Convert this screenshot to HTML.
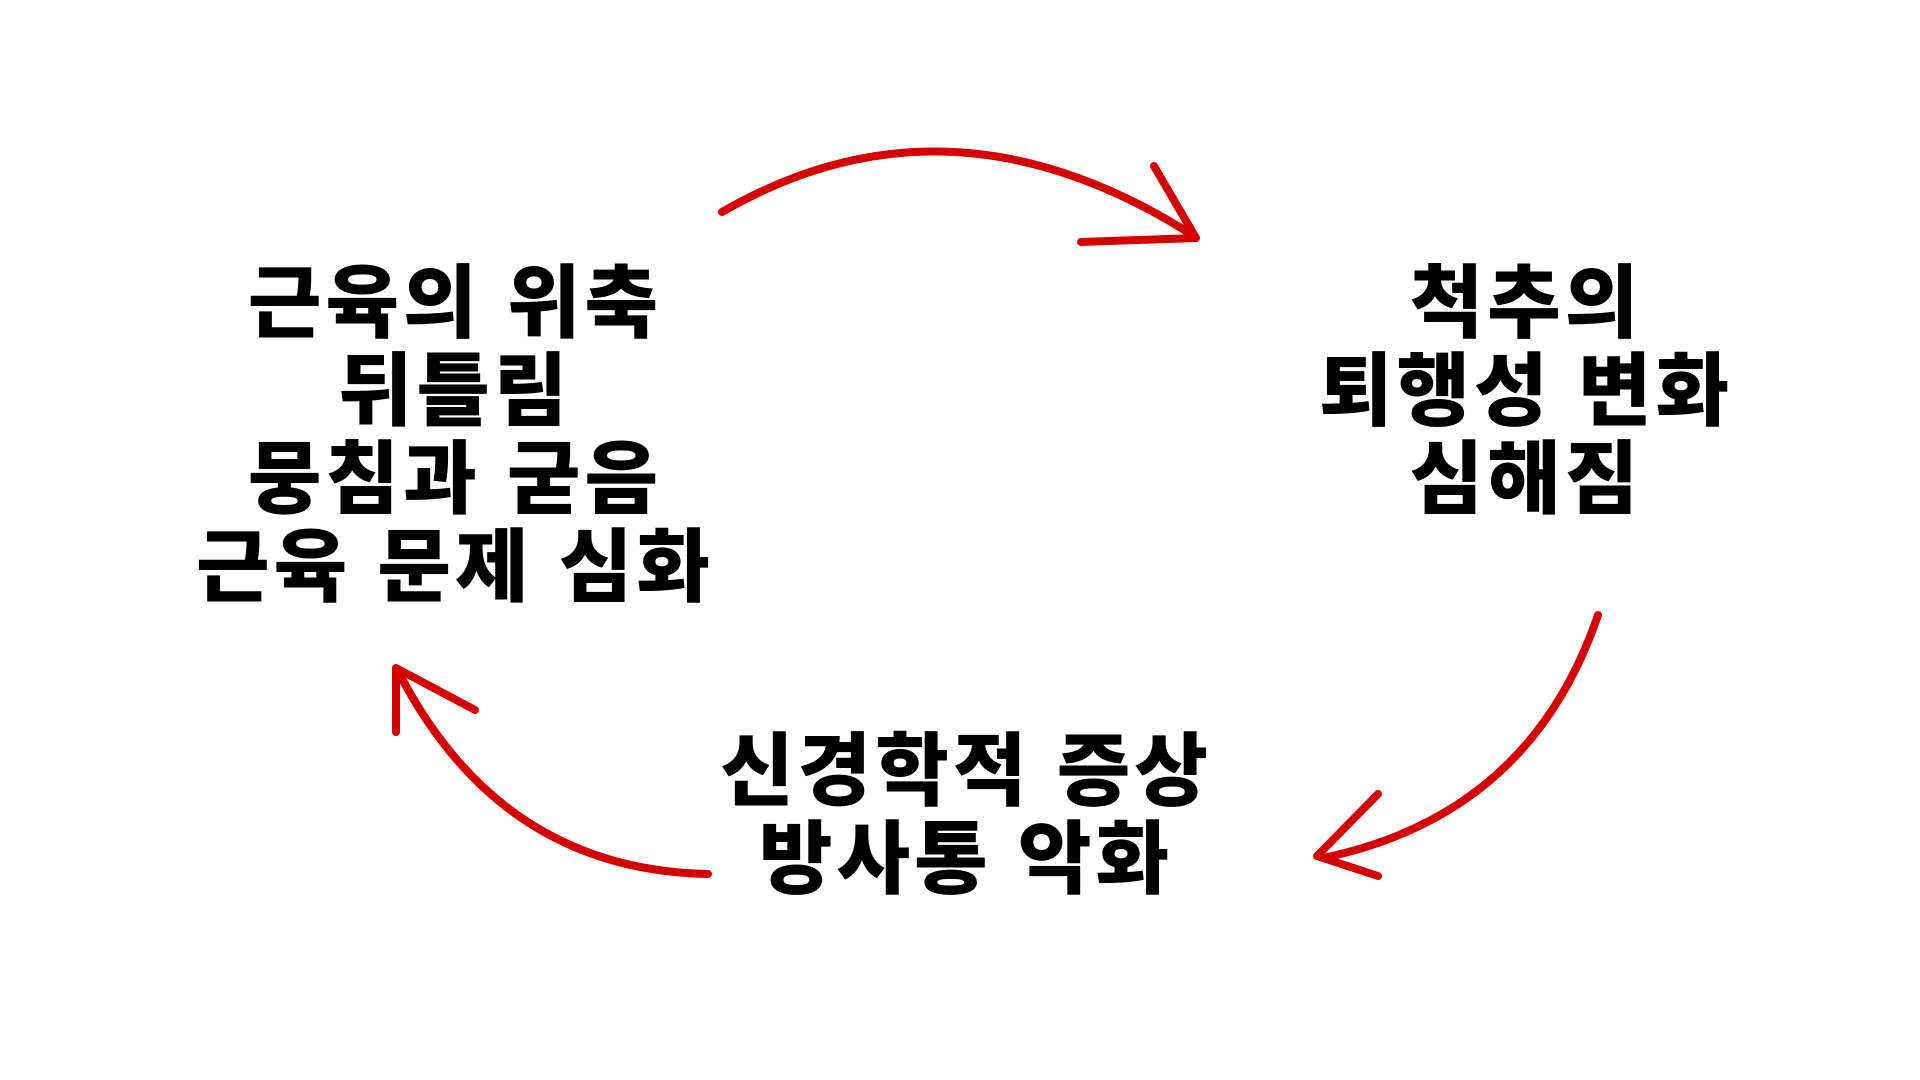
<!DOCTYPE html>
<html><head><meta charset="utf-8"><style>
html,body{margin:0;padding:0;background:#fff;width:1920px;height:1080px;overflow:hidden}
.t{position:absolute;font-family:"Liberation Sans","Noto Sans CJK KR",sans-serif;font-weight:900;font-size:80px;line-height:88px;text-align:center;color:#000;white-space:nowrap;transform:translateX(-50%);letter-spacing:4px}
svg{position:absolute;left:0;top:0}
</style></head><body>
<svg width="1920" height="1080" viewBox="0 0 1920 1080">
<g fill="none" stroke="#d40000" stroke-width="8" stroke-linecap="round" stroke-linejoin="round">
<path d="M722,212 Q950,80 1194,236"/>
<path d="M1154,166 L1196,238 L1081,242"/>
<path d="M1598,615 Q1530,815 1323,858"/>
<path d="M1378,794 L1317,856 L1378,876"/>
<path d="M708,874 Q500,870 398,671"/>
<path d="M396,732 L396,668 L475,710"/>
</g>
</svg>
<div class="t" style="left:455px;top:260px">근육의 위축<br>뒤틀림<br>뭉침과 굳음<br>근육 문제 심화</div>
<div class="t" style="left:1526px;top:260px">척추의<br>퇴행성 변화<br>심해짐</div>
<div class="t" style="left:966px;top:728px">신경학적 증상<br>방사통 악화</div>
</body></html>
